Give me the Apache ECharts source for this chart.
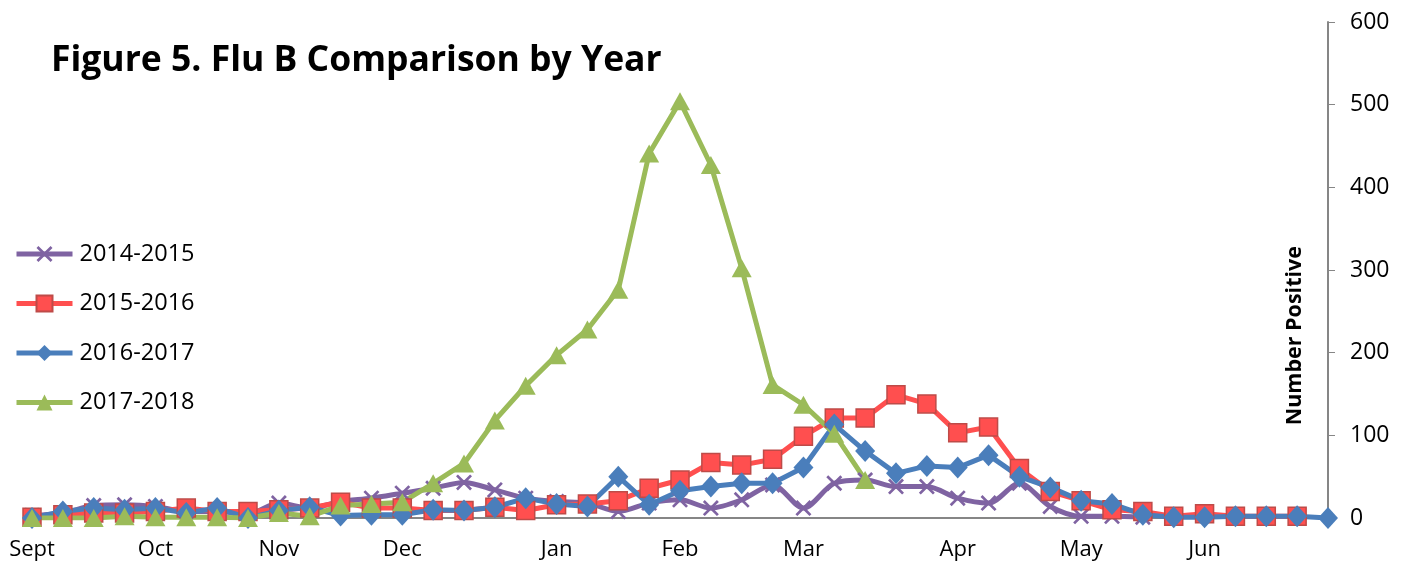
<!DOCTYPE html>
<html>
<head>
<meta charset="utf-8">
<script src="https://cdn.jsdelivr.net/npm/echarts@6/dist/echarts.min.js"></script>
<style>
html,body{margin:0;padding:0;background:#fff;}
#chart{width:1411px;height:569px;}
</style>
</head>
<body>
<div id="chart"></div>
<script>
// Week categories (43 weeks, Sept through June); month labels at first week of month
const weekLabels = ["Sept","","","","Oct","","","","Nov","","","","Dec","","","","","Jan","","","","Feb","","","","Mar","","","","","Apr","","","","May","","","","Jun","","","",""];
const seriesNames = ["2014-2015","2015-2016","2016-2017","2017-2018"];
const s2014 = [3,6,15,16,14,8,8,5,18,12,20,24,30,36,43,34,24,20,18,8,18,22,12,22,40,12,42,46,38,38,24,18,42,14,2,2,1];
const s2015 = [1,4,6,6,8,12,8,8,10,12,19,12,12,9,9,13,9,16,17,21,36,46,67,64,71,99,121,121,149,138,103,110,60,32,21,10,8,2,5,2,2,2];
const s2016 = [0,8,12,10,12,6,12,0,9,13,3,4,4,10,9,13,24,17,14,50,16,33,38,42,42,61,113,81,54,63,61,76,50,37,21,17,4,1,1,2,2,2,0];
const s2017 = [0,0,0,2,1,1,1,0,6,2,15,17,19,42,66,118,160,197,228,276,441,504,427,302,161,137,102,46];
const yTicks = {min:0, max:600, interval:100};

const FONT = "'Open Sans', 'Noto Sans', sans-serif";
const xPath = 'path://M0,1.2 L1.2,0 L5,3.8 L8.8,0 L10,1.2 L6.2,5 L10,8.8 L8.8,10 L5,6.2 L1.2,10 L0,8.8 L3.8,5 Z';

const chart = echarts.init(document.getElementById('chart'), null, {renderer:'canvas'});
chart.setOption({
  animation:false,
  backgroundColor:'#ffffff',
  title:{
    text:'Figure 5. Flu B Comparison by Year',
    left:46, top:38,
    textStyle:{fontFamily:FONT, fontWeight:'bold', fontSize:35.5, color:'#000'}
  },
  legend:{
    orient:'vertical', left:9, top:237,
    itemWidth:56, itemHeight:20, itemGap:25.5,
    lineStyle:{width:5},
    textStyle:{fontFamily:FONT, fontSize:23.5, color:'#000', padding:[0,0,0,2]},
    data:seriesNames
  },
  grid:{left:32, right:83, top:22, bottom:51},
  xAxis:{
    type:'category', data:weekLabels, boundaryGap:false,
    axisLine:{lineStyle:{color:'#868686', width:2}},
    axisTick:{show:false},
    axisLabel:{interval:0, fontFamily:FONT, fontSize:22, color:'#000', margin:21},
    splitLine:{show:false}
  },
  yAxis:{
    type:'value', position:'right', min:yTicks.min, max:yTicks.max, interval:yTicks.interval,
    axisLine:{show:true, lineStyle:{color:'#868686', width:2}},
    axisTick:{show:true, inside:false, length:7, lineStyle:{color:'#868686'}},
    axisLabel:{fontFamily:FONT, fontSize:23, color:'#000', margin:22},
    splitLine:{show:false}
  },
  graphic:[{
    type:'text', left:1284, top:246, rotation:Math.PI/2,
    style:{text:'Number Positive', font:'bold 21.5px '+FONT, fill:'#000'}
  }],
  series:[
    {name:seriesNames[0], type:'line', data:s2014, smooth:0.3,
     symbol:xPath, symbolSize:16,
     lineStyle:{color:'#7F63A2', width:5},
     itemStyle:{color:'#7F63A2'}},
    {name:seriesNames[1], type:'line', data:s2015,
     symbol:'rect', symbolSize:18,
     lineStyle:{color:'#FF4F4F', width:5},
     itemStyle:{color:'#FF4F4F', borderColor:'#BE4B48', borderWidth:1.5}},
    {name:seriesNames[2], type:'line', data:s2016,
     symbol:'diamond', symbolSize:[20,22],
     lineStyle:{color:'#4A7EBB', width:5},
     itemStyle:{color:'#4A7EBB'}},
    {name:seriesNames[3], type:'line', data:s2017,
     symbol:'triangle', symbolSize:[20,18],
     lineStyle:{color:'#9BBB59', width:5},
     itemStyle:{color:'#9BBB59'}}
  ]
});
</script>
</body>
</html>
